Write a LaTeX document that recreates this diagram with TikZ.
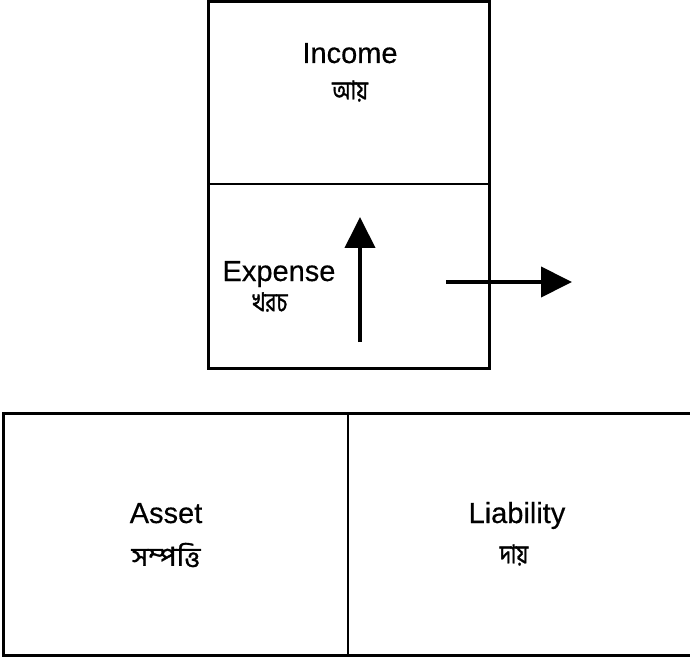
\documentclass[tikz,border=0pt]{standalone}
\usepackage{fontspec}
\setmainfont[FakeBold=0.4]{Liberation Sans}
\newfontfamily\bn[Script=Bengali,FakeBold=1.2,FakeStretch=0.8]{Hind Siliguri}
\newfontfamily\bnw[Script=Bengali,FakeBold=1.2,FakeStretch=1.1]{Hind Siliguri}
\usetikzlibrary{arrows.meta}
\begin{document}
\begin{tikzpicture}[x=1pt,y=-1pt,
  divider/.style={line width=2pt},
  en/.style={font=\fontsize{29}{30}\selectfont,anchor=base,inner sep=0pt},
  bl/.style={font=\bn\fontsize{26}{28}\selectfont,inner sep=0pt},
  flow/.style={line width=4pt,-{Triangle[length=31pt,width=30pt]}}]
\useasboundingbox (0,0) rectangle (690,660);
\clip (0,0) rectangle (690,660);
% top box
\draw[line width=3pt] (208,2) rectangle (489,368);
\draw[divider] (208,184) -- (489,184);
% bottom box
\draw[line width=3pt] (3,413) rectangle (720,655);
\draw[divider] (348,413) -- (348,655);
% texts
\node[en] (income) at (350,63) {Income};
\node[bl] (incomebn) at (350,91) {আয়};
\node[en] (expense) at (279,281) {Expense};
\node[bl] (expensebn) at (270,302) {খরচ};
\node[en] (asset) at (166,523) {Asset};
\node[bl,font=\bnw\fontsize{26}{28}\selectfont] (assetbn) at (166,555) {সম্পত্তি};
\node[en] (liab) at (517,523) {Liability};
\node[bl] (liabbn) at (514,555) {দায়};
% arrows
\coordinate (upfrom) at (360,342);
\coordinate (upto) at (360,217);
\coordinate (rfrom) at (446,282);
\coordinate (rto) at (572,282);
\draw[flow] (upfrom) -- (upto);
\draw[flow] (rfrom) -- (rto);
\end{tikzpicture}
\end{document}
